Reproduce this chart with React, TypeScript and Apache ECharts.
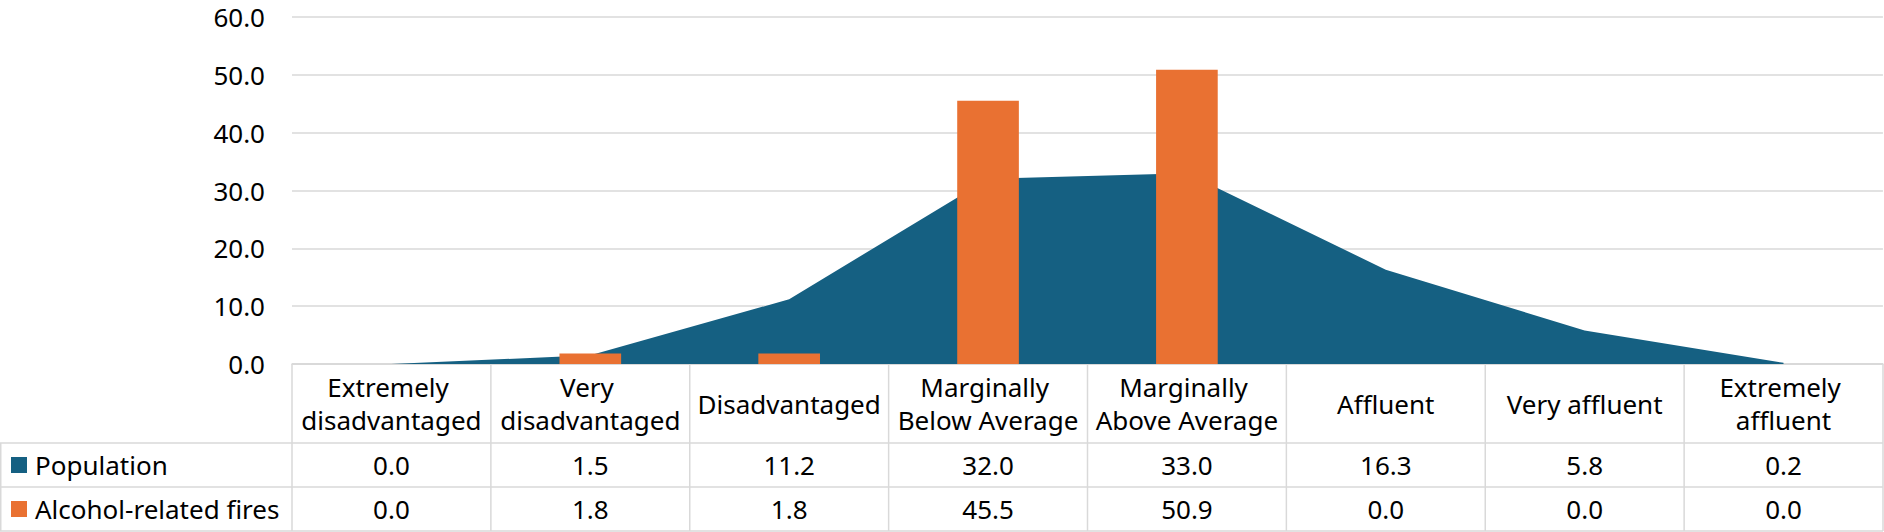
import React, { useEffect, useRef } from "react";
import * as echarts from "echarts";

const categories = [
  "Extremely disadvantaged",
  "Very disadvantaged",
  "Disadvantaged",
  "Marginally Below Average",
  "Marginally Above Average",
  "Affluent",
  "Very affluent",
  "Extremely affluent",
];
const population = [0.0, 1.5, 11.2, 32.0, 33.0, 16.3, 5.8, 0.2];
const alcoholFires = [0.0, 1.8, 1.8, 45.5, 50.9, 0.0, 0.0, 0.0];
const seriesNames = ["Population", "Alcohol-related fires"];
const seriesColors = ["#156082", "#E97132"];

const W = 1884;
const H = 532;
const PLOT_L = 292;
const PLOT_R = 1883;
const PLOT_T = 17;
const AXIS_Y = 364;
const ROW_Y = [364, 443, 487, 531];
const FONT = "'Noto Sans', sans-serif";
const FS = 26;
const GRID_C = "#D9D9D9";
const TXT = "#000000";

export default function App() {
  const ref = useRef<HTMLDivElement>(null);
  useEffect(() => {
    document.body.style.margin = "0";
    const chart = echarts.init(ref.current!, null, { renderer: "svg" });
    const n = categories.length;
    const cw = (PLOT_R - PLOT_L) / n;
    const graphics: any[] = [];
    const line = (x1: number, y1: number, x2: number, y2: number) => ({
      type: "line",
      shape: { x1, y1, x2, y2 },
      style: { stroke: GRID_C, lineWidth: 1.5 },
      silent: true,
    });
    graphics.push(line(PLOT_L, ROW_Y[0], PLOT_R, ROW_Y[0]));
    for (let r = 1; r < ROW_Y.length; r++) graphics.push(line(0, ROW_Y[r], PLOT_R, ROW_Y[r]));
    for (let k = 0; k <= n; k++) {
      const x = PLOT_L + k * cw;
      graphics.push(line(x, ROW_Y[0], x, ROW_Y[3]));
    }
    graphics.push(line(0.75, ROW_Y[1], 0.75, ROW_Y[3]));
    const rows = [population, alcoholFires];
    rows.forEach((vals, r) => {
      const cy = (ROW_Y[r + 1] + ROW_Y[r + 2]) / 2;
      graphics.push({
        type: "rect",
        shape: { x: 11, y: cy - 8, width: 16, height: 16 },
        style: { fill: seriesColors[r] },
        silent: true,
      });
      graphics.push({
        type: "text",
        x: 35,
        y: cy,
        style: {
          text: seriesNames[r],
          font: `${FS}px ${FONT}`,
          fill: TXT,
          verticalAlign: "middle",
          align: "left",
        },
        silent: true,
      });
      vals.forEach((v, i) => {
        graphics.push({
          type: "text",
          x: PLOT_L + (i + 0.5) * cw,
          y: cy,
          style: {
            text: v.toFixed(1),
            font: `${FS}px ${FONT}`,
            fill: TXT,
            verticalAlign: "middle",
            align: "center",
          },
          silent: true,
        });
      });
    });

    chart.setOption({
      animation: false,
      backgroundColor: "#ffffff",
      textStyle: { fontFamily: FONT },
      grid: {
        left: PLOT_L,
        right: W - PLOT_R,
        top: PLOT_T,
        bottom: H - AXIS_Y,
        containLabel: false,
      },
      xAxis: {
        type: "category",
        data: categories,
        boundaryGap: true,
        axisLine: { show: true, lineStyle: { color: GRID_C, width: 1.5 } },
        axisTick: { show: false },
        axisLabel: {
          interval: 0,
          margin: (ROW_Y[1] - ROW_Y[0]) / 2,
          verticalAlign: "middle",
          fontSize: FS,
          fontFamily: FONT,
          color: TXT,
          lineHeight: 33,
          width: 195,
          overflow: "break",
          align: "center",
        },
      },
      yAxis: {
        type: "value",
        min: 0,
        max: 60,
        interval: 10,
        axisLine: { show: false },
        axisTick: { show: false },
        splitLine: { lineStyle: { color: GRID_C, width: 1.5 } },
        axisLabel: {
          fontSize: FS,
          fontFamily: FONT,
          color: TXT,
          margin: 27,
          formatter: (v: number) => v.toFixed(1),
        },
      },
      series: [
        {
          name: seriesNames[0],
          type: "line",
          data: population,
          symbol: "none",
          lineStyle: { width: 0 },
          areaStyle: { color: seriesColors[0], opacity: 1 },
          itemStyle: { color: seriesColors[0] },
          z: 1,
        },
        {
          name: seriesNames[1],
          type: "bar",
          data: alcoholFires,
          barWidth: "31%",
          itemStyle: { color: seriesColors[1] },
          z: 2,
        },
      ],
      graphic: graphics,
    });
    return () => chart.dispose();
  }, []);
  return <div ref={ref} style={{ width: W, height: H }} />;
}
